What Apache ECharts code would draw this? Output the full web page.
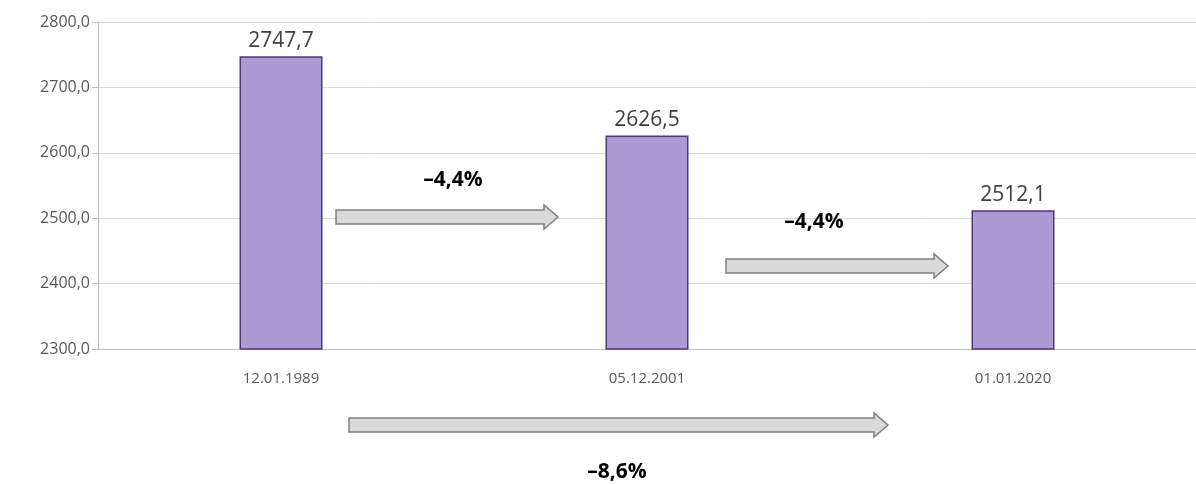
<!DOCTYPE html>
<html><head><meta charset="utf-8">
<script src="https://cdn.jsdelivr.net/npm/echarts@6/dist/echarts.min.js"></script>
<style>body{margin:0}#main{width:1196px;height:484px}</style>
</head><body><div id="main"></div>
<script>
var dates = ['12.01.1989', '05.12.2001', '01.01.2020'];
var values = [2747.7, 2626.5, 2512.1];
var changes = ['–4,4%', '–4,4%', '–8,6%'];

function fmt(v, d) { return v.toFixed(d).replace('.', ','); }

function arrow(x1, x2, y) { // стрелка: тело + наконечник
    var b = 7, h = 12, hl = 14;
    return {
        type: 'polygon', z: 10,
        shape: { points: [[x1, y - b], [x2 - hl, y - b], [x2 - hl, y - h], [x2, y], [x2 - hl, y + h], [x2 - hl, y + b], [x1, y + b]] },
        style: { fill: '#d9d9d9', stroke: '#808080', lineWidth: 1.5 }
    };
}
function label(t, x, y) {
    return { type: 'text', z: 10, x: x, y: y, style: { text: t, font: 'bold 21px "Open Sans", sans-serif', fill: '#000', align: 'center', verticalAlign: 'middle' } };
}

var chart = echarts.init(document.getElementById('main'));
chart.setOption({
    animation: false,
    grid: { left: 98, right: 0, top: 22, bottom: 135 },
    xAxis: {
        type: 'category', data: dates,
        axisLine: { lineStyle: { color: '#bfbfbf' } }, axisTick: { show: false },
        axisLabel: { color: '#595959', fontSize: 15, margin: 22, fontFamily: 'Open Sans' }
    },
    yAxis: {
        type: 'value', min: 2300, max: 2800, interval: 100,
        axisLine: { show: true, lineStyle: { color: '#bfbfbf' } },
        axisTick: { show: true, length: 6, lineStyle: { color: '#bfbfbf' } },
        splitLine: { lineStyle: { color: '#d9d9d9' } },
        axisLabel: { color: '#595959', fontSize: 16, fontFamily: 'Open Sans', formatter: function (v) { return fmt(v, 1); } }
    },
    series: [{
        type: 'bar', data: values, barWidth: 83,
        itemStyle: { color: '#ab9bd3', borderColor: '#4b3a7a', borderWidth: 1.5 },
        label: { show: true, position: 'top', color: '#404040', fontSize: 21, fontFamily: 'Open Sans', formatter: function (p) { return fmt(p.value, 1); } }
    }],
    graphic: [
        arrow(336, 558, 217), label(changes[0], 453, 180),
        arrow(726, 948, 266), label(changes[1], 814, 222),
        arrow(349, 888, 425), label(changes[2], 617, 472)
    ]
});
</script></body></html>
